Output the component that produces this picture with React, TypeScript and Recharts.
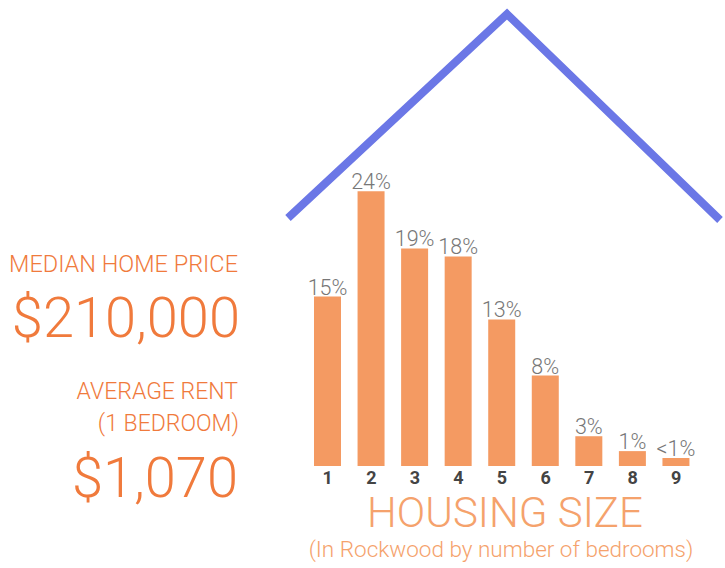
import React from "react";
import { BarChart, Bar, XAxis, YAxis, LabelList, Customized } from "recharts";

const bedrooms = ["1", "2", "3", "4", "5", "6", "7", "8", "9"];
const shares = [14.8, 24, 19, 18.3, 12.8, 7.9, 2.6, 1.3, 0.7];
const shareLabels = ["15%", "24%", "19%", "18%", "13%", "8%", "3%", "1%", "<1%"];

const data = bedrooms.map((b, i) => ({ bedrooms: b, share: shares[i], label: shareLabels[i] }));

const ORANGE = "#f07a3c";
const LIGHT_ORANGE = "#f5a26c";
const BAR = "#f49a62";
const ROOF = "#6b77e6";
const FONT = "Roboto, 'Helvetica Neue', Arial, sans-serif";

const Decor = () => (
  <g>
    <polyline
      points="288,218 507,14 720,220"
      fill="none"
      stroke={ROOF}
      strokeWidth={8}
      strokeLinejoin="miter"
    />
    <g fontFamily={FONT} fontWeight={300} fill={ORANGE} textAnchor="end">
      <text x={238} y={272} fontSize={23.5}>MEDIAN HOME PRICE</text>
      <text x={240} y={337} fontSize={56}>$210,000</text>
      <text x={238} y={399} fontSize={23}>AVERAGE RENT</text>
      <text x={239} y={431} fontSize={23}>(1 BEDROOM)</text>
      <text x={238} y={497} fontSize={56}>$1,070</text>
    </g>
    <g fontFamily={FONT} fontWeight={300} fill={LIGHT_ORANGE} textAnchor="middle">
      <text x={505} y={527} fontSize={42}>HOUSING SIZE</text>
      <text x={501} y={557} fontSize={22.5}>(In Rockwood by number of bedrooms)</text>
    </g>
  </g>
);

export default function App() {
  return (
    <div style={{ position: "absolute", left: 0, top: 0, width: 725, height: 568, background: "#fff" }}>
      <BarChart
        width={725}
        height={568}
        data={data}
        margin={{ top: 8, right: 27, bottom: 72, left: 306 }}
      >
        <XAxis
          dataKey="bedrooms"
          axisLine={false}
          tickLine={false}
          tickSize={3}
          height={30}
          interval={0}
          tick={{ fontSize: 18, fontWeight: 700, fill: "#444", fontFamily: FONT }}
        />
        <YAxis hide domain={[0, 40]} />
        <Bar dataKey="share" fill={BAR} barSize={27} isAnimationActive={false}>
          <LabelList
            dataKey="label"
            position="top"
            offset={2}
            style={{ fontSize: 21.5, fill: "#777777", fontFamily: FONT, fontWeight: 300 }}
          />
        </Bar>
        <Customized component={Decor} />
      </BarChart>
    </div>
  );
}
